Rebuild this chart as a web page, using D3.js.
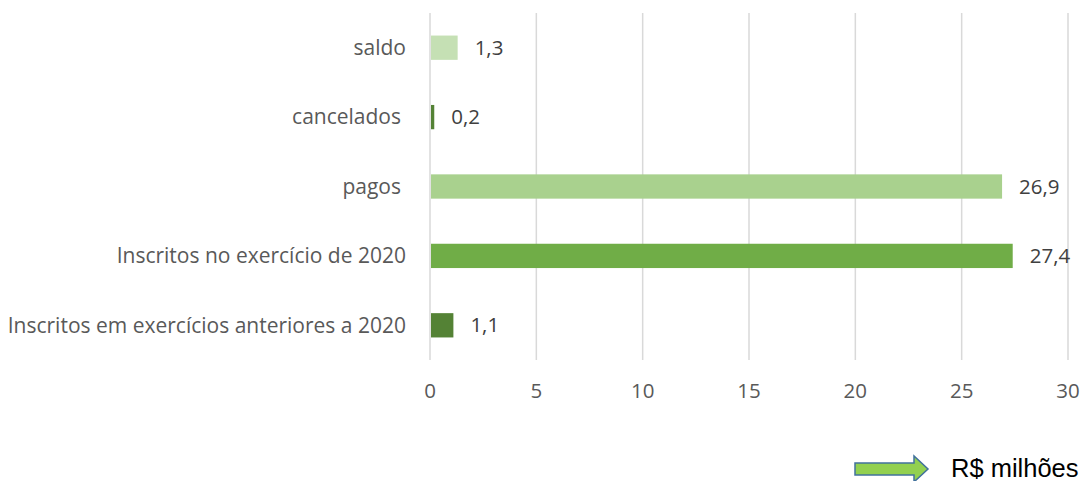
<!DOCTYPE html>
<html>
<head>
<meta charset="utf-8">
<script src="https://cdn.jsdelivr.net/npm/d3@7"></script>
<style>
  body { margin: 0; background: #fff; }
</style>
</head>
<body>
<svg id="chart"></svg>
<script>
const width = 1084;
const height = 481;

// data (R$ milhões), top to bottom
const categories = ["saldo", "cancelados", "pagos", "Inscritos no exercício de 2020", "Inscritos em exercícios anteriores a 2020"];
const values = [1.3, 0.2, 26.9, 27.4, 1.1];
const valueLabels = ["1,3", "0,2", "26,9", "27,4", "1,1"];
const barColors = ["#c5e0b4", "#548235", "#a9d18e", "#70ad47", "#548235"];
const xTicks = [0, 5, 10, 15, 20, 25, 30];
const unitLabel = "R$ milhões";

const font = "'Open Sans', 'Noto Sans', sans-serif";

const svg = d3.select("#chart")
    .attr("width", width)
    .attr("height", height);

const x = d3.scaleLinear().domain([0, 30]).range([430, 1068]);
const y = d3.scaleBand().domain(categories).range([13, 360]).paddingInner(0.65).paddingOuter(0.325);

// gridlines
svg.append("g")
    .selectAll("line")
    .data(xTicks)
    .enter()
    .append("line")
    .attr("x1", d => x(d))
    .attr("x2", d => x(d))
    .attr("y1", 13)
    .attr("y2", 360)
    .attr("stroke", "#d9d9d9")
    .attr("stroke-width", 1.5);

// tick labels
svg.append("g")
    .selectAll("text")
    .data(xTicks)
    .enter()
    .append("text")
    .attr("x", d => x(d))
    .attr("y", 398)
    .attr("text-anchor", "middle")
    .attr("font-family", font)
    .attr("font-size", 20.5)
    .attr("fill", "#595959")
    .text(d => d);

// bars
svg.append("g")
    .selectAll("rect")
    .data(categories)
    .enter()
    .append("rect")
    .attr("x", x(0) + 1)
    .attr("y", d => y(d))
    .attr("width", (d, i) => x(values[i]) - x(0) - 1)
    .attr("height", y.bandwidth())
    .attr("fill", (d, i) => barColors[i]);

// value labels
svg.append("g")
    .selectAll("text")
    .data(categories)
    .enter()
    .append("text")
    .attr("x", (d, i) => x(values[i]) + 17)
    .attr("y", d => y(d) + y.bandwidth() / 2)
    .attr("dy", "0.35em")
    .attr("font-family", font)
    .attr("font-size", 20.5)
    .attr("fill", "#404040")
    .text((d, i) => valueLabels[i]);

// category labels
svg.append("g")
    .selectAll("text")
    .data(categories)
    .enter()
    .append("text")
    .attr("x", (d, i) => (i === 1 || i === 2) ? 401 : 406)
    .attr("y", d => y(d) + y.bandwidth() / 2)
    .attr("dy", "0.35em")
    .attr("text-anchor", "end")
    .attr("font-family", font)
    .attr("font-size", 21)
    .attr("fill", "#595959")
    .text(d => d);

// unit arrow
const arrow = d3.path();
arrow.moveTo(855, 463);
arrow.lineTo(914, 463);
arrow.lineTo(914, 456);
arrow.lineTo(928, 469);
arrow.lineTo(914, 482);
arrow.lineTo(914, 475);
arrow.lineTo(855, 475);
arrow.closePath();

svg.append("path")
    .attr("d", arrow.toString())
    .attr("fill", "#92d050")
    .attr("stroke", "#41719c")
    .attr("stroke-width", 1.5);

svg.append("text")
    .attr("x", 951)
    .attr("y", 477)
    .attr("font-family", "'Liberation Sans', Arial, sans-serif")
    .attr("font-size", 25.5)
    .attr("fill", "#000")
    .text(unitLabel);
</script>
</body>
</html>
